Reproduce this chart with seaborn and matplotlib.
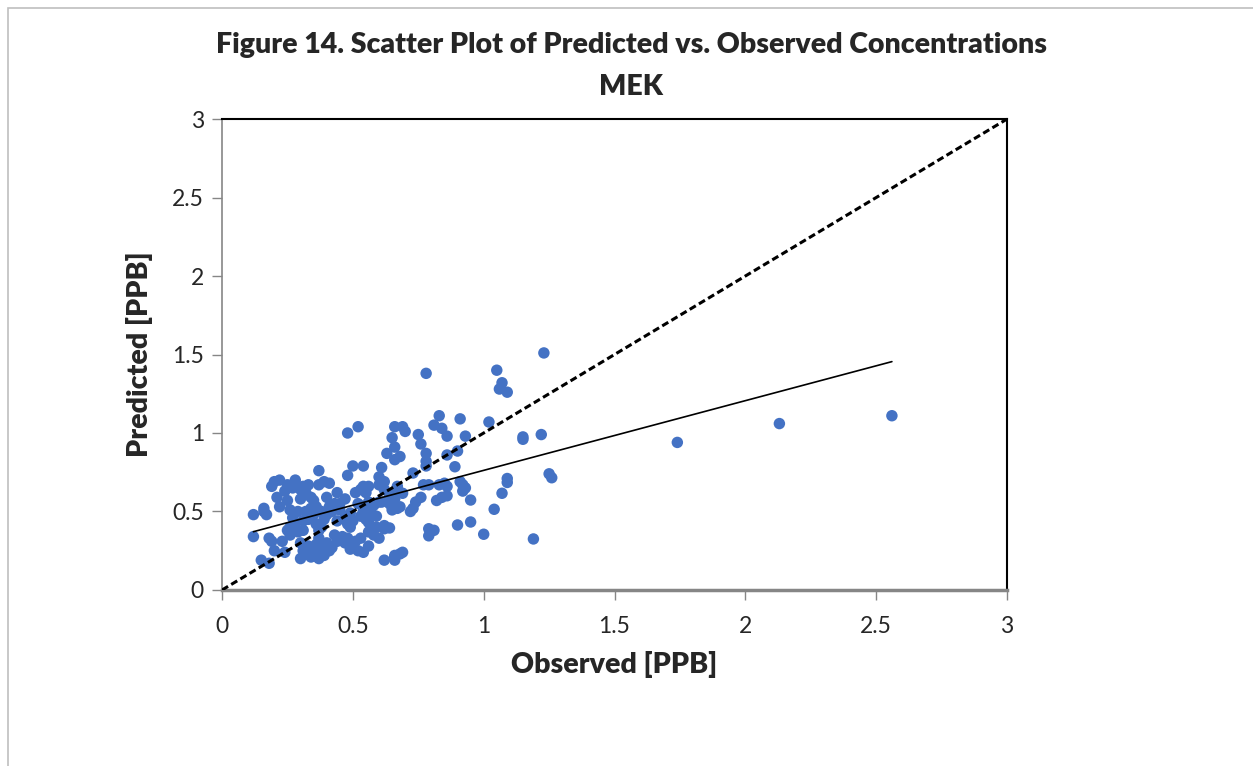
import numpy as np
import pandas as pd
import matplotlib
matplotlib.use("Agg")
import matplotlib.pyplot as plt
import matplotlib.patches as patches
import seaborn as sns

# observed / predicted pairs
obs = [
    0.12, 0.12, 0.16, 0.16, 0.17, 0.18, 0.19, 0.20, 0.24, 0.15, 0.18,
    0.19, 0.20, 0.22, 0.25, 0.28, 0.33, 0.24, 0.21, 0.27, 0.30, 0.32, 0.31,
    0.37, 0.39, 0.41, 0.44, 0.40, 0.25, 0.30, 0.34, 0.22, 0.26, 0.29, 0.27, 0.28,
    0.25, 0.28, 0.26, 0.29, 0.31,
    0.30, 0.31, 0.30, 0.34, 0.33, 0.32, 0.35,
    0.37, 0.39, 0.41, 0.38, 0.40, 0.36, 0.42,
    0.36, 0.38, 0.37, 0.39,
    0.32, 0.34, 0.36, 0.38, 0.41, 0.35, 0.33, 0.40, 0.43, 0.42,
    0.45, 0.45, 0.47, 0.49, 0.49, 0.50, 0.48,
    0.46, 0.48, 0.50, 0.52, 0.54, 0.56, 0.53, 0.49, 0.51, 0.47,
    0.51, 0.53, 0.54, 0.56, 0.55,
    0.52, 0.54, 0.56, 0.57,
    0.54, 0.55, 0.56, 0.53,
    0.56, 0.58, 0.60, 0.62, 0.62, 0.59,
    0.58, 0.60, 0.61, 0.64, 0.65, 0.67, 0.66, 0.64, 0.62, 0.60, 0.62,
    0.62, 0.66, 0.68, 0.66,
    0.48, 0.52, 0.66, 0.65, 0.66, 0.63, 0.66, 0.37, 0.50, 0.54, 0.48, 0.61, 0.60,
    1.23, 0.78, 1.05, 1.07, 1.06, 1.09, 0.83, 0.91, 0.81, 0.84, 0.86, 1.02, 0.93,
    1.15, 1.15, 1.22,
    0.69, 0.70, 0.75, 0.76, 0.78, 0.68, 0.86, 0.90, 0.78, 0.78, 0.89, 0.73,
    1.25, 1.26, 1.09, 1.09,
    0.91, 0.92, 0.93, 0.92, 0.83, 0.86, 0.85, 0.77, 0.79, 0.67, 0.67, 0.69, 1.07,
    0.86, 0.84, 0.82, 0.95,
    0.76, 0.74, 0.73, 0.72, 0.65, 0.68, 1.04, 0.90, 0.95, 1.00, 0.79, 0.81, 0.79,
    1.19, 0.69, 0.66, 0.64,
    0.23, 0.26, 0.35, 0.44, 0.47, 0.31, 0.43, 0.57, 0.59,
    0.34, 0.37, 0.39, 0.44, 0.36,
    1.74, 2.13, 2.56,
]
pred = [
    0.48, 0.34, 0.50, 0.52, 0.48, 0.33, 0.31, 0.25, 0.24, 0.19, 0.17,
    0.66, 0.69, 0.70, 0.67, 0.70, 0.67, 0.63, 0.59, 0.65, 0.64, 0.62, 0.66,
    0.67, 0.69, 0.68, 0.62, 0.59, 0.57, 0.58, 0.59, 0.53, 0.51, 0.50, 0.46, 0.43,
    0.38, 0.39, 0.35, 0.37, 0.38,
    0.30, 0.25, 0.20, 0.21, 0.28, 0.23, 0.26,
    0.33, 0.28, 0.25, 0.25, 0.30, 0.22, 0.27,
    0.42, 0.40, 0.38, 0.45,
    0.50, 0.52, 0.53, 0.50, 0.53, 0.48, 0.45, 0.48, 0.55, 0.50,
    0.51, 0.55, 0.46, 0.49, 0.40, 0.44, 0.42,
    0.34, 0.33, 0.29, 0.25, 0.24, 0.28, 0.33, 0.26, 0.31, 0.30,
    0.62, 0.64, 0.66, 0.66, 0.62,
    0.55, 0.53, 0.56, 0.52,
    0.50, 0.45, 0.43, 0.47,
    0.37, 0.35, 0.33, 0.39, 0.41, 0.40,
    0.54, 0.56, 0.56, 0.55, 0.53, 0.52, 0.58, 0.61, 0.64, 0.67, 0.69,
    0.19, 0.19, 0.23, 0.21,
    1.00, 1.04, 1.04, 0.97, 0.91, 0.87, 0.83, 0.76, 0.79, 0.79, 0.73, 0.78, 0.72,
    1.51, 1.38, 1.40, 1.32, 1.28, 1.26, 1.11, 1.09, 1.05, 1.03, 0.98, 1.07, 0.98,
    0.96, 0.975, 0.99,
    1.04, 1.01, 0.99, 0.93, 0.87, 0.85, 0.86, 0.885, 0.82, 0.79, 0.785, 0.745,
    0.74, 0.715, 0.71, 0.685,
    0.69, 0.67, 0.65, 0.63, 0.67, 0.66, 0.68, 0.67, 0.67, 0.66, 0.65, 0.616, 0.616,
    0.60, 0.59, 0.57, 0.573,
    0.59, 0.56, 0.52, 0.50, 0.51, 0.53, 0.514, 0.414, 0.433, 0.355, 0.39, 0.38, 0.345,
    0.325, 0.24, 0.22, 0.395,
    0.31, 0.40, 0.57, 0.44, 0.58, 0.44, 0.35, 0.48, 0.47,
    0.23, 0.20, 0.22, 0.31, 0.29,
    0.94, 1.06, 1.11,
]

# Excel linear trendline
trend_slope = 0.444
trend_intercept = 0.318

ticks = [0, 0.5, 1, 1.5, 2, 2.5, 3]
tick_labels = ["0", "0.5", "1", "1.5", "2", "2.5", "3"]

df = pd.DataFrame({"Observed": obs, "Predicted": pred})

sns.set_style("white")
plt.rcParams["font.family"] = ["Lato", "DejaVu Sans"]

fig = plt.figure(figsize=(12.53, 7.66), dpi=100)
ax = fig.add_axes([0.1772, 0.2298, 0.6265, 0.6148])

sns.scatterplot(data=df, x="Observed", y="Predicted", ax=ax, color="#4472C4",
                s=68, edgecolor="none", linewidth=0, zorder=3)

# 1:1 line
ax.plot([0, 3], [0, 3], color="black", linestyle=(0, (2.3, 1.2)), linewidth=2.2, zorder=4)

# trendline over the data range
tx = np.array([df["Observed"].min(), df["Observed"].max()])
ax.plot(tx, trend_intercept + trend_slope * tx, color="black", linewidth=1.2, zorder=4)

ax.set_xlim(0, 3)
ax.set_ylim(0, 3)
ax.set_xticks(ticks)
ax.set_xticklabels(tick_labels)
ax.set_yticks(ticks)
ax.set_yticklabels(tick_labels)
ax.tick_params(axis="both", labelsize=16.5, length=7, width=1, color="#868686",
               direction="out", pad=12)
ax.tick_params(axis="y", pad=6)
ax.tick_params(axis="both", bottom=True, left=True)

for side in ["top", "right"]:
    ax.spines[side].set_color("black")
    ax.spines[side].set_linewidth(1.5)
ax.spines["left"].set_color("#868686")
ax.spines["left"].set_linewidth(1.2)
ax.spines["bottom"].set_color("#868686")
ax.spines["bottom"].set_linewidth(2.5)

ax.set_xlabel("Observed [PPB]", fontsize=20.5, fontweight="heavy", labelpad=10)
ax.set_ylabel("Predicted [PPB]", fontsize=20.5, fontweight="heavy", labelpad=14)

fig.text(0.5036, 1 - 45 / 766, "Figure 14. Scatter Plot of Predicted vs. Observed Concentrations",
         ha="center", va="center", fontsize=20.5, fontweight="heavy")
fig.text(0.5036, 1 - 87 / 766, "MEK", ha="center", va="center", fontsize=20.5, fontweight="heavy")

# outer chart border
fig.patches.append(patches.Rectangle((8 / 1253, -0.1), 1.2, 1.1 - 8 / 766,
                                     transform=fig.transFigure, fill=False,
                                     edgecolor="#BFBFBF", linewidth=1.2, clip_on=False))

fig.savefig("out.png", dpi=100)
